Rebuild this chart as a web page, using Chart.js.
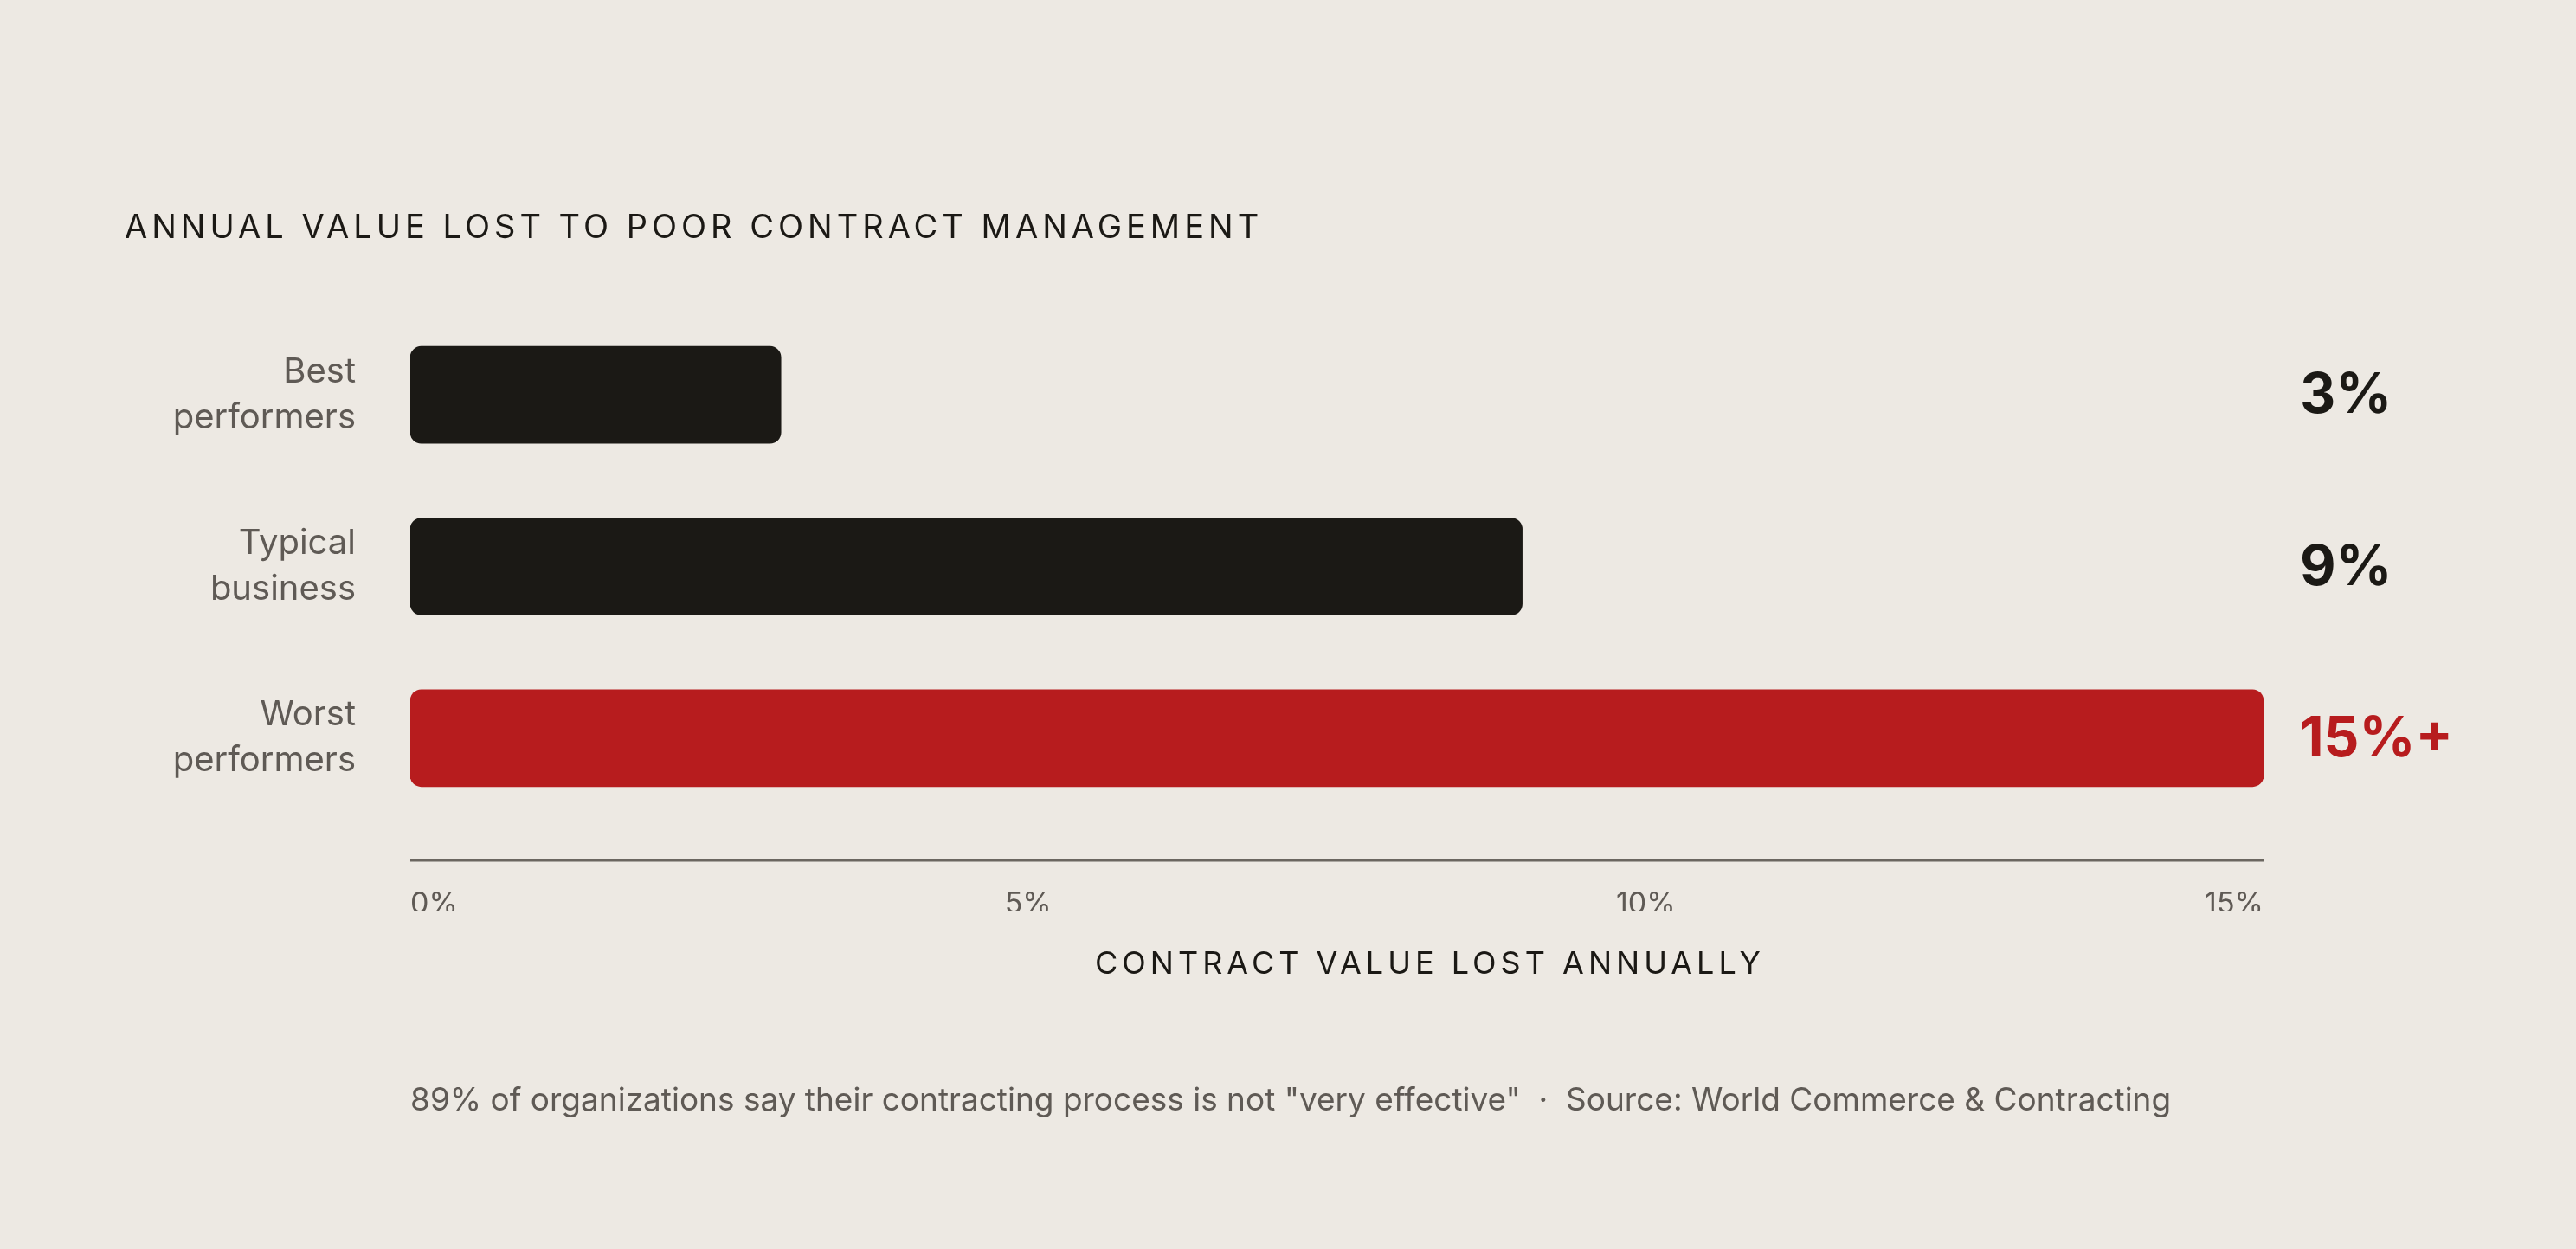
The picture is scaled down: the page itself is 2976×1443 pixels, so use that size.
<!DOCTYPE html>
<html><head><meta charset="utf-8">
<script src="https://cdn.jsdelivr.net/npm/chart.js@4.4.1/dist/chart.umd.min.js"></script>
<style>html,body{margin:0;background:#ede9e3;}canvas{display:block}</style>
</head><body>
<div style="width:2976px;height:1443px"><canvas id="c"></canvas></div>
<script>
const categories=[["Best","performers"],["Typical","business"],["Worst","performers"]];
const values=[3,9,15];
const valueLabels=["3%","9%","15%+"];
const barColors=["#1b1915","#1b1915","#b71c1e"];
const tickLabels={0:"0%",5:"5%",10:"10%",15:"15%"};
const title="ANNUAL VALUE LOST TO POOR CONTRACT MANAGEMENT";
const axisTitle="CONTRACT VALUE LOST ANNUALLY";
const footnote='89% of organizations say their contracting process is not "very effective"  ·  Source: World Commerce & Contracting';
const FONT="Inter, 'Open Sans', sans-serif";

const textPlugin={id:'txt',afterDraw(ch){
  const c=ch.ctx,a=ch.chartArea;c.save();
  c.textBaseline='middle';
  c.fillStyle='#1b1915';c.font='400 38px '+FONT;c.letterSpacing='5px';c.textAlign='left';
  c.fillText(title,144,264);
  c.textAlign='center';c.font='400 36px '+FONT;
  c.fillText(axisTitle,1652,1114);
  c.letterSpacing='0px';
  c.fillStyle='#5f5a55';c.textAlign='left';c.font='400 37px '+FONT;
  c.fillText(footnote,474,1272);
  c.strokeStyle='#6b6660';c.lineWidth=3;c.beginPath();c.moveTo(a.left,994);c.lineTo(a.right,994);c.stroke();
  const meta=ch.getDatasetMeta(0);
  c.font='700 64px '+FONT;
  meta.data.forEach((b,i)=>{c.fillStyle=barColors[i];c.fillText(valueLabels[i],2657,b.y+2);});
  c.restore();
}};

new Chart(document.getElementById('c'),{
  type:'bar',
  data:{labels:categories,datasets:[{data:values,backgroundColor:barColors,barThickness:112,borderRadius:13,borderSkipped:false}]},
  options:{indexAxis:'y',responsive:true,maintainAspectRatio:false,animation:false,
    layout:{padding:{left:0,right:361,top:357,bottom:391}},
    plugins:{legend:{display:false},tooltip:{enabled:false}},
    scales:{
      y:{grid:{display:false},border:{display:false},
        afterFit(s){s.width=474;},
        ticks:{padding:55,color:'#5f5a55',font:{family:FONT,size:40,lineHeight:1.33}}},
      x:{min:0,max:15,grid:{display:false,drawTicks:false},border:{display:false},
        afterFit(s){s.height=100;},
        ticks:{stepSize:5,align:'inner',padding:72,color:'#5f5a55',font:{family:FONT,size:34},
          callback:v=>tickLabels[v]}}
    }},
  plugins:[textPlugin]
});
</script></body></html>
